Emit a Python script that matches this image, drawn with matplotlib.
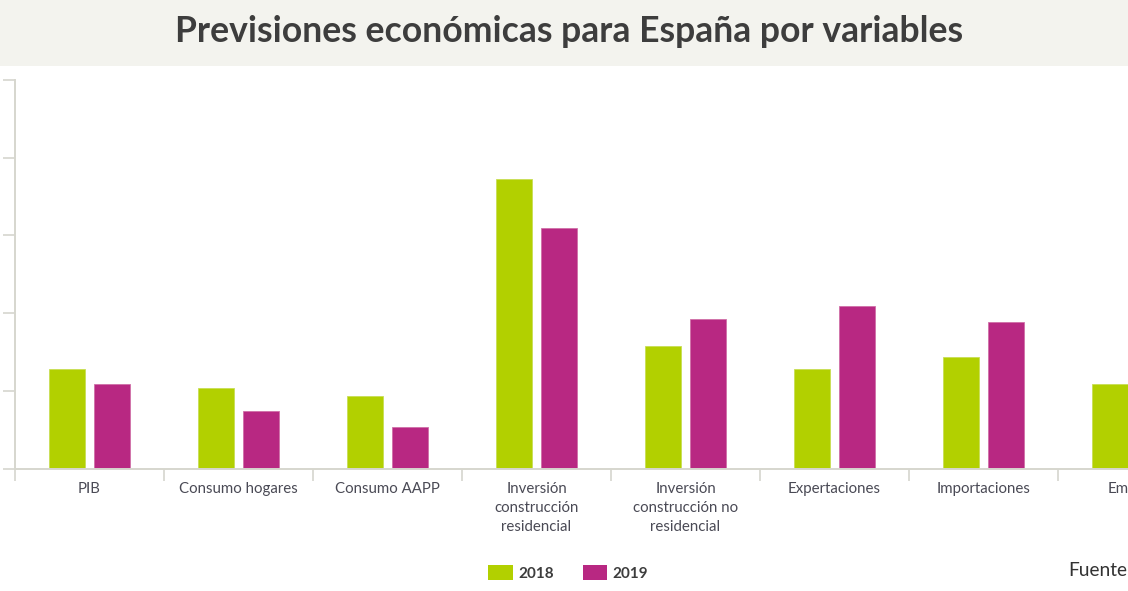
import matplotlib
matplotlib.use("Agg")
import matplotlib.pyplot as plt
import numpy as np
from matplotlib.patches import Patch, Rectangle

# datos (% de variación)
categorias = ["PIB", "Consumo hogares", "Consumo AAPP",
              "Inversión\nconstrucción\nresidencial",
              "Inversión\nconstrucción no\nresidencial",
              "Expertaciones", "Importaciones", "Empleo"]
valores_2018 = [2.56, 2.07, 1.86, 7.46, 3.16, 2.56, 2.87, 2.17]
valores_2019 = [2.17, 1.47, 1.06, 6.18, 3.86, 4.18, 3.76, 1.9]
series = ["2018", "2019"]
ticks_y = [0, 2, 4, 6, 8, 10]

verde = "#b2d000"
magenta = "#b82882"
gris_eje = "#d6d6ce"
texto = "#4a4a55"

plt.rcParams["font.family"] = ["Lato", "DejaVu Sans"]

W, H = 1128, 591
fig = plt.figure(figsize=(W / 100, H / 100), dpi=100)
fig.patch.set_facecolor("white")

# banda del título
fig.add_artist(Rectangle((0, 1 - 66 / H), 1, 66 / H, transform=fig.transFigure,
                         facecolor="#f3f3ee", edgecolor="none", zorder=0))
fig.text(569 / W, 1 - 31 / H, "Previsiones económicas para España por variables",
         ha="center", va="center", fontsize=25.6, fontweight="bold", color="#3d3d3d")

# el eje sigue más allá del borde derecho (gráfico recortado)
ax = fig.add_axes([15 / W, (H - 468.5) / H, 8 * 149 / W, 388.5 / H])
x = np.arange(len(categorias))
ancho = 0.242
desp = 0.151
ax.bar(x - desp, valores_2018, ancho, color=verde, edgecolor="#c8de55", linewidth=0.6)
ax.bar(x + desp, valores_2019, ancho, color=magenta, edgecolor="#d070a8", linewidth=0.6)

ax.set_xlim(-0.5, len(categorias) - 0.5)
ax.set_ylim(0, 10)
ax.set_yticks(ticks_y)
ax.set_yticklabels([])
ax.tick_params(axis="y", direction="out", length=8.5, width=1.2, color=gris_eje)

ax.set_xticks(x)
ax.set_xticklabels(categorias, fontsize=10.8, color=texto, linespacing=1.45)
ax.set_xticks(np.arange(-0.5, len(categorias)), minor=True)
ax.tick_params(axis="x", which="major", length=0, pad=9.5)
ax.tick_params(axis="x", which="minor", direction="out", length=8.5, width=1.2, color=gris_eje)

for lado in ["top", "right"]:
    ax.spines[lado].set_visible(False)
for lado in ["left", "bottom"]:
    ax.spines[lado].set_color(gris_eje)
    ax.spines[lado].set_linewidth(1.4)

manejadores = [Patch(facecolor=verde, edgecolor="none"),
               Patch(facecolor=magenta, edgecolor="none")]
leg = fig.legend(manejadores, series, loc="center", bbox_to_anchor=(568 / W, 1 - 573 / H),
                 ncol=2, frameon=False, handlelength=1.6, handleheight=1.15,
                 handletextpad=0.35, columnspacing=1.9,
                 prop={"size": 11, "weight": "bold"})
for t in leg.get_texts():
    t.set_color("#3d3d3d")

fig.text(1068 / W, 1 - 571 / H, "Fuente", ha="left", va="center", fontsize=13.8, color="#333333")

fig.savefig("out.png", dpi=100)
